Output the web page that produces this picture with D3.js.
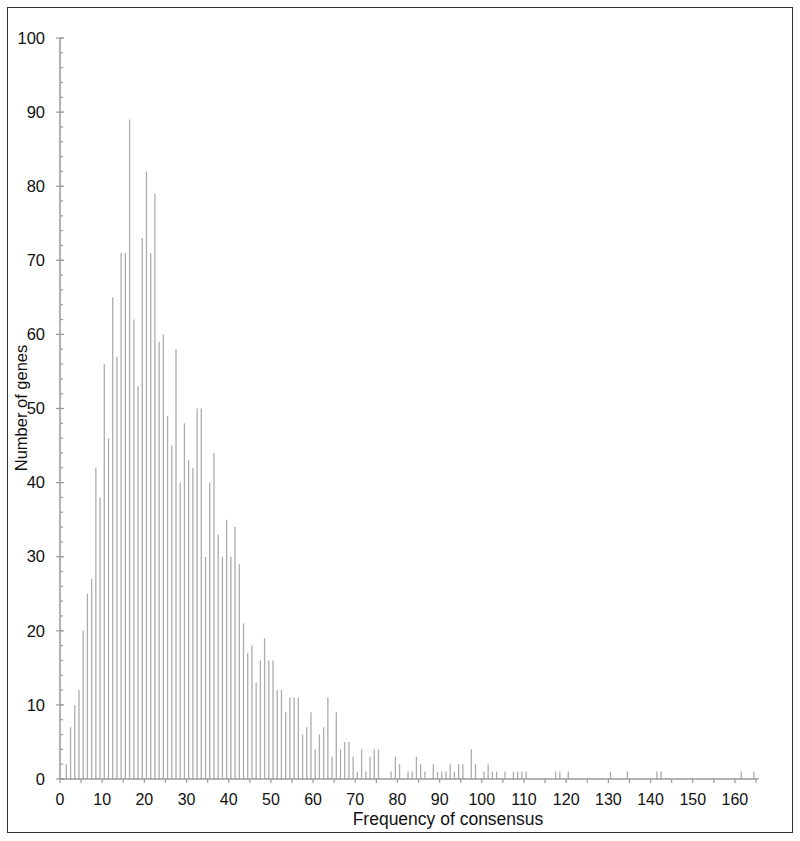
<!DOCTYPE html>
<html>
<head>
<meta charset="utf-8">
<script src="https://cdn.jsdelivr.net/npm/d3@7"></script>
<style>
  body { margin: 0; background: #fff; }
  svg text { font-family: "Liberation Sans", Arial, sans-serif; fill: #111; }
</style>
</head>
<body>
<div id="chart"></div>
<script>
// frequency of consensus (bins) and number of genes in each
const frequency = [
  1, 2, 3, 4, 5, 6, 7, 8, 9, 10, 11, 12, 13, 14, 15, 16, 17, 18, 19, 20,
  21, 22, 23, 24, 25, 26, 27, 28, 29, 30, 31, 32, 33, 34, 35, 36, 37, 38, 39, 40,
  41, 42, 43, 44, 45, 46, 47, 48, 49, 50, 51, 52, 53, 54, 55, 56, 57, 58, 59, 60,
  61, 62, 63, 64, 65, 66, 67, 68, 69, 70, 71, 72, 73, 74, 75, 78, 79, 80, 82, 83,
  84, 85, 86, 88, 89, 90, 91, 92, 93, 94, 95, 97, 98, 100, 101, 102, 103, 105, 107, 108,
  109, 110, 117, 118, 120, 130, 134, 141, 142, 161, 164
];
const genes = [
  2, 7, 10, 12, 20, 25, 27, 42, 38, 56, 46, 65, 57, 71, 71, 89, 62, 53, 73, 82,
  71, 79, 59, 60, 49, 45, 58, 40, 48, 43, 42, 50, 50, 30, 40, 44, 33, 30, 35, 30,
  34, 29, 21, 17, 18, 13, 16, 19, 16, 16, 12, 12, 9, 11, 11, 11, 6, 7, 9, 4,
  6, 7, 11, 3, 9, 4, 5, 5, 3, 1, 4, 1, 3, 4, 4, 1, 3, 2, 1, 1,
  3, 2, 1, 2, 1, 1, 1, 2, 1, 2, 2, 4, 2, 1, 2, 1, 1, 1, 1, 1,
  1, 1, 1, 1, 1, 1, 1, 1, 1, 1, 1
];
const xTickValues = d3.range(0, 166, 5);
const xLabelValues = d3.range(0, 161, 10);
const yMinorValues = d3.range(0, 101, 2);
const yLabelValues = d3.range(0, 101, 10);

const width = 800, height = 841;
const axisColor = "#9a9a9a";

const svg = d3.select("#chart").append("svg")
  .attr("width", width)
  .attr("height", height);

svg.append("rect")
  .attr("x", 7.5).attr("y", 7.5)
  .attr("width", 785).attr("height", 825)
  .attr("fill", "none")
  .attr("stroke", "#333")
  .attr("stroke-width", 1);

const x = d3.scaleLinear().domain([0, 165]).range([60, 756]);
const y = d3.scaleLinear().domain([0, 100]).range([779, 38]);

// bars (thin spikes centred in each bin)
svg.append("g").attr("class", "bars")
  .selectAll("line")
  .data(frequency.map((f, i) => ({ f, n: genes[i] })))
  .join("line")
  .attr("x1", (d) => x(d.f + 0.5))
  .attr("x2", (d) => x(d.f + 0.5))
  .attr("y1", y(0))
  .attr("y2", (d) => y(d.n))
  .attr("stroke", "#acacac")
  .attr("stroke-width", 1.3);

// x axis
const gx = svg.append("g").attr("transform", `translate(0,${y(0)})`);
gx.append("line")
  .attr("x1", x(0)).attr("x2", x(165.6))
  .attr("stroke", axisColor).attr("stroke-width", 1.5);
gx.selectAll(".tick")
  .data(xTickValues)
  .join("line")
  .attr("class", "tick")
  .attr("x1", (d) => x(d)).attr("x2", (d) => x(d))
  .attr("y1", 0).attr("y2", 4)
  .attr("stroke", axisColor).attr("stroke-width", 1.2);
gx.selectAll(".label")
  .data(xLabelValues)
  .join("text")
  .attr("class", "label")
  .attr("x", (d) => x(d))
  .attr("y", 26)
  .attr("text-anchor", "middle")
  .attr("font-size", 16)
  .text((d) => d);

// y axis
const gy = svg.append("g").attr("transform", `translate(${x(0)},0)`);
gy.append("line")
  .attr("y1", y(0)).attr("y2", y(100))
  .attr("stroke", axisColor).attr("stroke-width", 1.5);
gy.selectAll(".minor")
  .data(yMinorValues)
  .join("line")
  .attr("class", "minor")
  .attr("y1", (d) => y(d)).attr("y2", (d) => y(d))
  .attr("x1", 0).attr("x2", 3)
  .attr("stroke", axisColor).attr("stroke-width", 1.2);
gy.selectAll(".major")
  .data(yLabelValues)
  .join("line")
  .attr("class", "major")
  .attr("y1", (d) => y(d)).attr("y2", (d) => y(d))
  .attr("x1", -4).attr("x2", 4)
  .attr("stroke", axisColor).attr("stroke-width", 1.2);
gy.selectAll(".label")
  .data(yLabelValues)
  .join("text")
  .attr("class", "label")
  .attr("x", -15)
  .attr("y", (d) => y(d))
  .attr("dy", "0.35em")
  .attr("text-anchor", "end")
  .attr("font-size", 16.5)
  .text((d) => d);

// axis titles
svg.append("text")
  .attr("x", 448).attr("y", 825)
  .attr("text-anchor", "middle")
  .attr("font-size", 17.5)
  .text("Frequency of consensus");

svg.append("text")
  .attr("transform", "translate(27,408) rotate(-90)")
  .attr("text-anchor", "middle")
  .attr("font-size", 16.5)
  .text("Number of genes");
</script>
</body>
</html>
